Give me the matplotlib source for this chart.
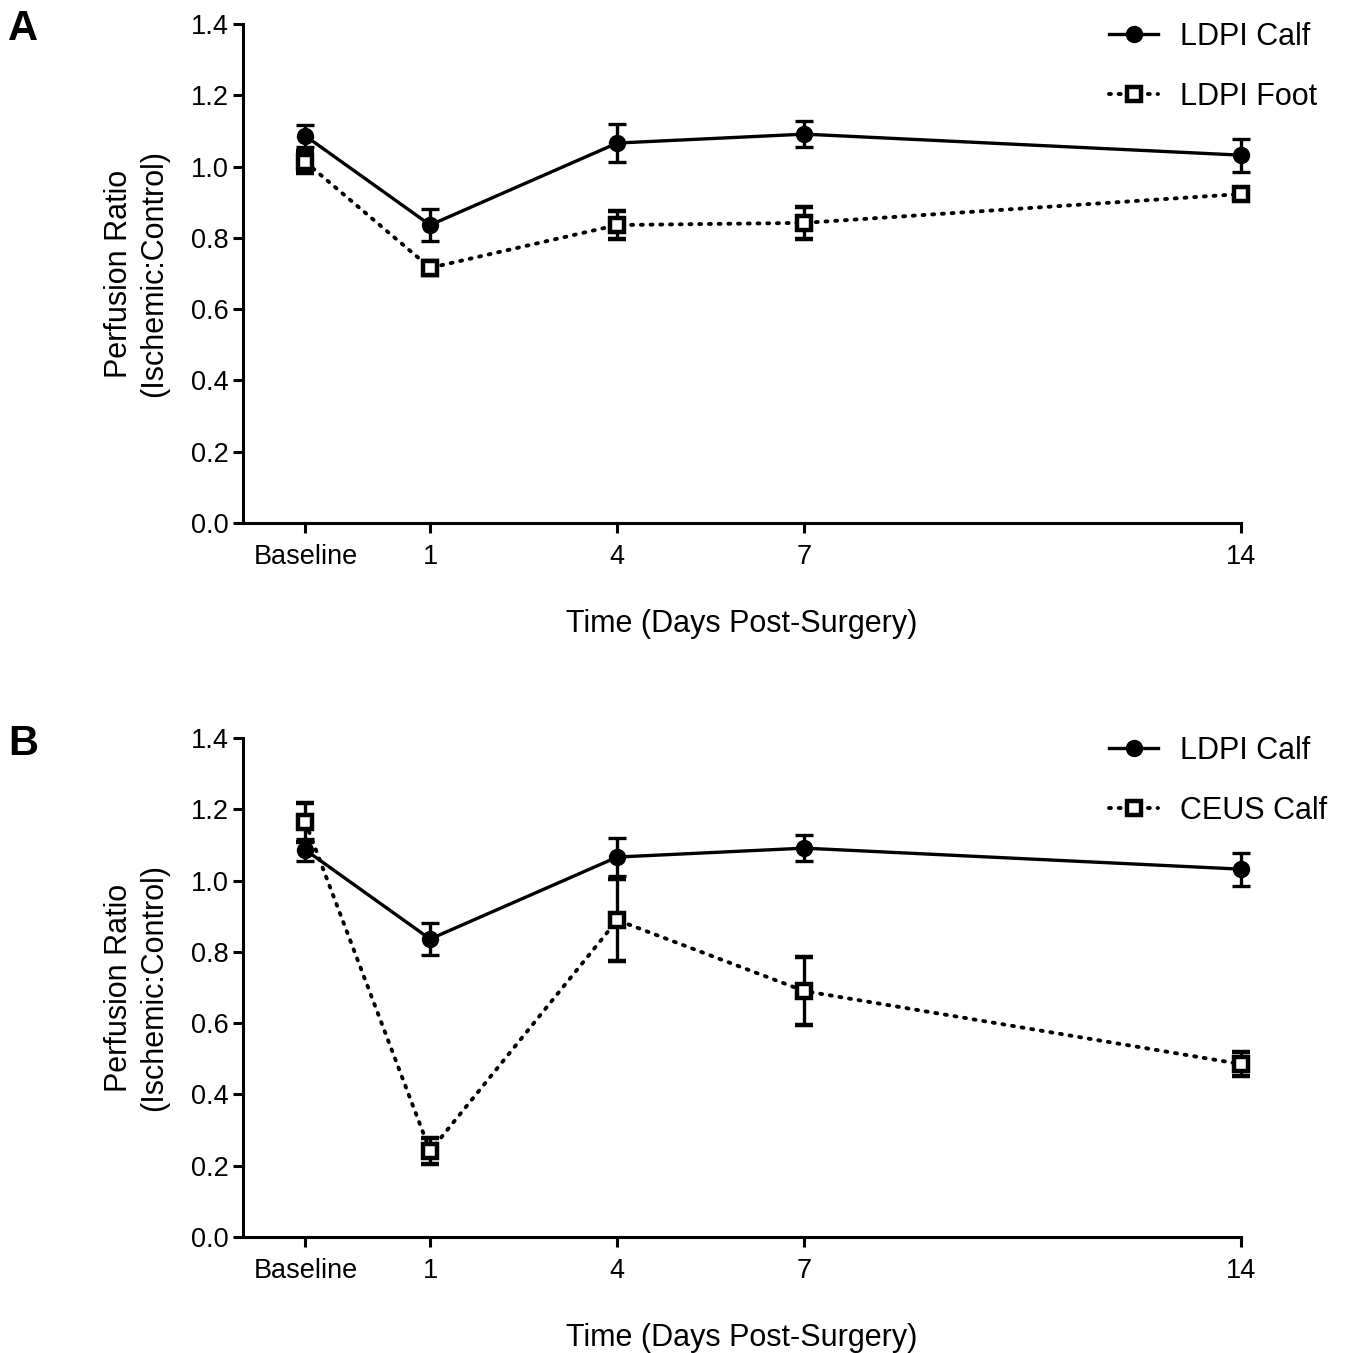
import matplotlib
matplotlib.use("Agg")
import matplotlib.pyplot as plt

plt.rcParams['font.family'] = ['Liberation Sans', 'DejaVu Sans']

days = [-1, 1, 4, 7, 14]
tick_labels = ["Baseline", "1", "4", "7", "14"]

ldpi_calf = [1.086, 0.836, 1.066, 1.091, 1.032]
ldpi_calf_err = [0.032, 0.044, 0.053, 0.036, 0.046]

ldpi_foot = [1.013, 0.716, 0.836, 0.842, 0.923]
ldpi_foot_err = [0.032, 0.02, 0.038, 0.045, 0.015]

ceus_calf = [1.164, 0.241, 0.889, 0.690, 0.485]
ceus_calf_err = [0.055, 0.037, 0.115, 0.096, 0.033]

fig = plt.figure(figsize=(13.48, 13.53), dpi=100)
W, H = 1348, 1353
axA = fig.add_axes([243 / W, 1 - 523 / H, (1241 - 243) / W, (523 - 24) / H])
axB = fig.add_axes([243 / W, 1 - 1237 / H, (1241 - 243) / W, (1237 - 738) / H])

yt = [0, 0.2, 0.4, 0.6, 0.8, 1.0, 1.2, 1.4]


def style(ax):
    ax.set_xlim(-2, 14)
    ax.set_ylim(0, 1.4)
    ax.set_xticks(days)
    ax.set_xticklabels(tick_labels)
    ax.set_yticks(yt)
    ax.set_yticklabels([f"{v:.1f}" for v in yt])
    for s in ['top', 'right']:
        ax.spines[s].set_visible(False)
    for s in ['left', 'bottom']:
        ax.spines[s].set_linewidth(2.2)
    ax.tick_params(axis='both', width=2.2, length=7, labelsize=19.5, direction='out')
    ax.tick_params(axis='x', pad=8)
    ax.tick_params(axis='y', pad=3)
    ax.set_xlabel("Time (Days Post-Surgery)", fontsize=22, labelpad=28)
    ax.set_ylabel("Perfusion Ratio\n(Ischemic:Control)", fontsize=22, labelpad=16,
                  linespacing=1.2)


def plot_calf(ax):
    return ax.errorbar(days, ldpi_calf, yerr=ldpi_calf_err, color='black', lw=2.4,
                       marker='o', markersize=11.5, capsize=6.5, capthick=2.4,
                       elinewidth=2.4, zorder=3, clip_on=False)


def plot_open(ax, vals, errs):
    return ax.errorbar(days, vals, yerr=errs, color='black', lw=2.8, ls=(0, (0.5, 2.0)),
                       dash_capstyle='round',
                       marker='s', markersize=10.5, markerfacecolor='white',
                       markeredgewidth=3.2, markeredgecolor='black',
                       capsize=6.5, capthick=2.4, elinewidth=2.4, zorder=3, clip_on=False)


style(axA)
hA1 = plot_calf(axA)
hA2 = plot_open(axA, ldpi_foot, ldpi_foot_err)

style(axB)
hB1 = plot_calf(axB)
hB2 = plot_open(axB, ceus_calf, ceus_calf_err)

for ax, h1, h2, labels in ((axA, hA1, hA2, ["LDPI Calf", "LDPI Foot"]),
                           (axB, hB1, hB2, ["LDPI Calf", "CEUS Calf"])):
    for c in (h1, h2):
        for art in c.lines[1] + c.lines[2]:
            art.set_clip_on(False)
    ax.legend([h1.lines[0], h2.lines[0]], labels, loc='upper left',
              bbox_to_anchor=(0.868, 1.005), borderpad=0, borderaxespad=0,
              frameon=False, fontsize=22, handlelength=1.6, labelspacing=1.0,
              handletextpad=0.7)

fig.text(8 / W, 1 - 40 / H, "A", fontsize=30, fontweight='bold')
fig.text(8 / W, 1 - 755 / H, "B", fontsize=30, fontweight='bold')

fig.savefig("out.png", dpi=100)
